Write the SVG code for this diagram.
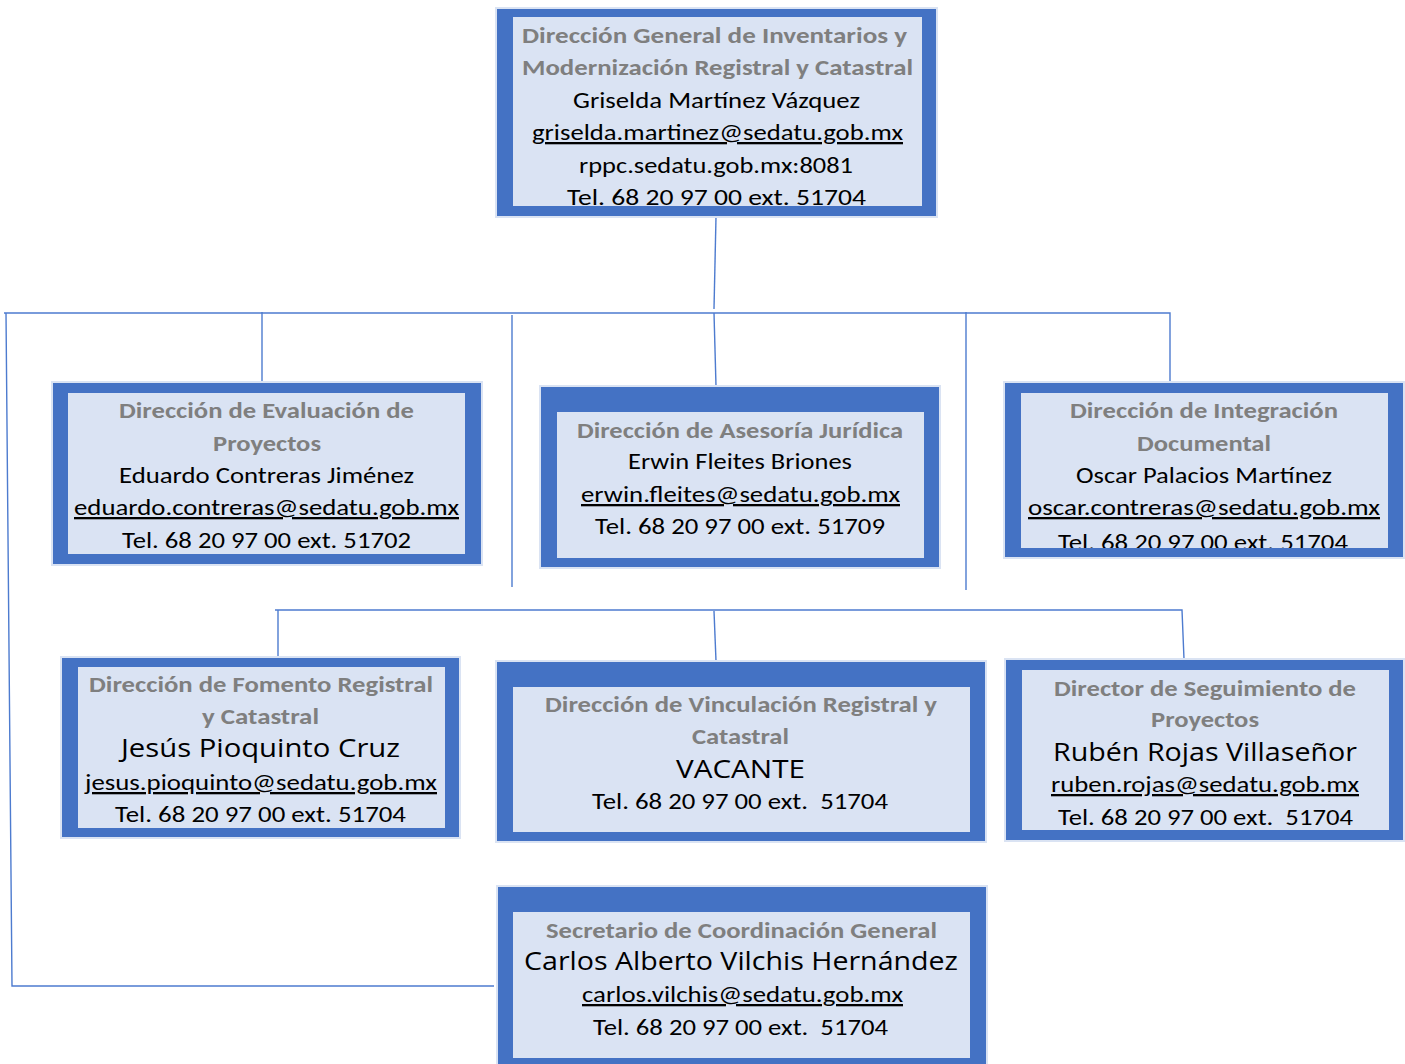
<svg xmlns="http://www.w3.org/2000/svg" width="1405" height="1064" viewBox="0 0 1405 1064">
<style>
.frame{fill:#4472C4;stroke:#DAE3F3;stroke-width:2}
.inner{fill:#DAE3F3}
text{text-anchor:middle;font-family:Carlito,"Liberation Sans Narrow","Liberation Sans",sans-serif;font-size:23px;fill:#000}
.t{font-weight:bold;fill:#7F7F7F}
.m{font-family:"Open Sans","Noto Sans",sans-serif;font-size:26px}
.u{text-decoration:underline}
.c{fill:none;stroke:#4D7BCF;stroke-width:1.4}
</style>
<defs>
<clipPath id="clip1"><rect x="513" y="17" width="409" height="189"/></clipPath>
<clipPath id="clip4"><rect x="1021" y="393" width="367" height="155"/></clipPath>
</defs>
<rect width="1405" height="1064" fill="#fff"/>
<g id="connectors">
<path class="c" d="M716,217 L714,309"/>
<path class="c" d="M4,313 H1170 V383"/>
<path class="c" d="M262,312 V382"/>
<path class="c" d="M714,313 L716,386"/>
<path class="c" d="M512,315 V587"/>
<path class="c" d="M966,312 V590"/>
<path class="c" d="M6,313 L12,986 H494"/>
<path class="c" d="M275,610 H1182 L1184,659"/>
<path class="c" d="M278,610 V657"/>
<path class="c" d="M714,611 L716,661"/>
</g>
<g id="node-general">
<rect class="frame" x="496" y="8" width="441" height="209"/>
<rect class="inner" x="513" y="17" width="409" height="189"/>
<g clip-path="url(#clip1)">
<text class="t" x="714.5" y="43" textLength="385" lengthAdjust="spacingAndGlyphs">Dirección General de Inventarios y</text>
<text class="t" x="717.5" y="75" textLength="391" lengthAdjust="spacingAndGlyphs">Modernización Registral y Catastral</text>
<text x="716.5" y="108" textLength="287" lengthAdjust="spacingAndGlyphs">Griselda Martínez Vázquez</text>
<text class="u" x="717.5" y="140" textLength="371" lengthAdjust="spacingAndGlyphs">griselda.martinez@sedatu.gob.mx</text>
<text x="716" y="173" textLength="274" lengthAdjust="spacingAndGlyphs">rppc.sedatu.gob.mx:8081</text>
<text x="716.5" y="205" textLength="299" lengthAdjust="spacingAndGlyphs">Tel. 68 20 97 00 ext. 51704</text>
</g>
</g>
<g id="node-evaluacion">
<rect class="frame" x="52" y="382" width="430" height="183"/>
<rect class="inner" x="68" y="393" width="397" height="161"/>
<text class="t" x="266.5" y="418" textLength="295" lengthAdjust="spacingAndGlyphs">Dirección de Evaluación de</text>
<text class="t" x="267" y="451" textLength="108" lengthAdjust="spacingAndGlyphs">Proyectos</text>
<text x="266.5" y="483" textLength="295" lengthAdjust="spacingAndGlyphs">Eduardo Contreras Jiménez</text>
<text class="u" x="266.5" y="515" textLength="385" lengthAdjust="spacingAndGlyphs">eduardo.contreras@sedatu.gob.mx</text>
<text x="266.5" y="548" textLength="289" lengthAdjust="spacingAndGlyphs">Tel. 68 20 97 00 ext. 51702</text>
</g>
<g id="node-asesoria">
<rect class="frame" x="540" y="386" width="400" height="182"/>
<rect class="inner" x="557" y="412" width="367" height="146"/>
<text class="t" x="740" y="438" textLength="326" lengthAdjust="spacingAndGlyphs">Dirección de Asesoría Jurídica</text>
<text x="740" y="469" textLength="224" lengthAdjust="spacingAndGlyphs">Erwin Fleites Briones</text>
<text class="u" x="740.5" y="502" textLength="319" lengthAdjust="spacingAndGlyphs">erwin.fleites@sedatu.gob.mx</text>
<text x="740" y="534" textLength="290" lengthAdjust="spacingAndGlyphs">Tel. 68 20 97 00 ext. 51709</text>
</g>
<g id="node-integracion">
<rect class="frame" x="1004" y="382" width="400" height="176"/>
<rect class="inner" x="1021" y="393" width="367" height="155"/>
<g clip-path="url(#clip4)">
<text class="t" x="1204" y="418" textLength="268" lengthAdjust="spacingAndGlyphs">Dirección de Integración</text>
<text class="t" x="1204" y="451" textLength="134" lengthAdjust="spacingAndGlyphs">Documental</text>
<text x="1204" y="483" textLength="256" lengthAdjust="spacingAndGlyphs">Oscar Palacios Martínez</text>
<text class="u" x="1204" y="515" textLength="352" lengthAdjust="spacingAndGlyphs">oscar.contreras@sedatu.gob.mx</text>
<text x="1203" y="550" textLength="290" lengthAdjust="spacingAndGlyphs">Tel. 68 20 97 00 ext. 51704</text>
</g>
</g>
<g id="node-fomento">
<rect class="frame" x="61" y="657" width="399" height="181"/>
<rect class="inner" x="78" y="667" width="367" height="161"/>
<text class="t" x="261" y="692" textLength="344" lengthAdjust="spacingAndGlyphs">Dirección de Fomento Registral</text>
<text class="t" x="260.5" y="724" textLength="117" lengthAdjust="spacingAndGlyphs">y Catastral</text>
<text class="m" x="260.5" y="757" textLength="279" lengthAdjust="spacingAndGlyphs">Jesús Pioquinto Cruz</text>
<text class="u" x="261" y="790" textLength="352" lengthAdjust="spacingAndGlyphs">jesus.pioquinto@sedatu.gob.mx</text>
<text x="260.5" y="822" textLength="291" lengthAdjust="spacingAndGlyphs">Tel. 68 20 97 00 ext. 51704</text>
</g>
<g id="node-vinculacion">
<rect class="frame" x="496" y="661" width="490" height="181"/>
<rect class="inner" x="513" y="687" width="457" height="145"/>
<text class="t" x="741" y="712" textLength="392" lengthAdjust="spacingAndGlyphs">Dirección de Vinculación Registral y</text>
<text class="t" x="740.5" y="744" textLength="97" lengthAdjust="spacingAndGlyphs">Catastral</text>
<text class="m" x="740.5" y="778" textLength="129" lengthAdjust="spacingAndGlyphs">VACANTE</text>
<text x="740" y="809" textLength="296" lengthAdjust="spacingAndGlyphs">Tel. 68 20 97 00 ext.&#160; 51704</text>
</g>
<g id="node-seguimiento">
<rect class="frame" x="1005" y="659" width="399" height="182"/>
<rect class="inner" x="1022" y="670" width="367" height="160"/>
<text class="t" x="1205" y="696" textLength="302" lengthAdjust="spacingAndGlyphs">Director de Seguimiento de</text>
<text class="t" x="1205" y="727" textLength="108" lengthAdjust="spacingAndGlyphs">Proyectos</text>
<text class="m" x="1205" y="761" textLength="304" lengthAdjust="spacingAndGlyphs">Rubén Rojas Villaseñor</text>
<text class="u" x="1205" y="792" textLength="308" lengthAdjust="spacingAndGlyphs">ruben.rojas@sedatu.gob.mx</text>
<text x="1205.5" y="825" textLength="295" lengthAdjust="spacingAndGlyphs">Tel. 68 20 97 00 ext.&#160; 51704</text>
</g>
<g id="node-secretario">
<rect class="frame" x="497" y="886" width="490" height="182"/>
<rect class="inner" x="513" y="912" width="457" height="146"/>
<text class="t" x="741.5" y="938" textLength="391" lengthAdjust="spacingAndGlyphs">Secretario de Coordinación General</text>
<text class="m" x="741" y="970" textLength="434" lengthAdjust="spacingAndGlyphs">Carlos Alberto Vilchis Hernández</text>
<text class="u" x="742.5" y="1002" textLength="321" lengthAdjust="spacingAndGlyphs">carlos.vilchis@sedatu.gob.mx</text>
<text x="740.5" y="1035" textLength="295" lengthAdjust="spacingAndGlyphs">Tel. 68 20 97 00 ext.&#160; 51704</text>
</g>
</svg>
